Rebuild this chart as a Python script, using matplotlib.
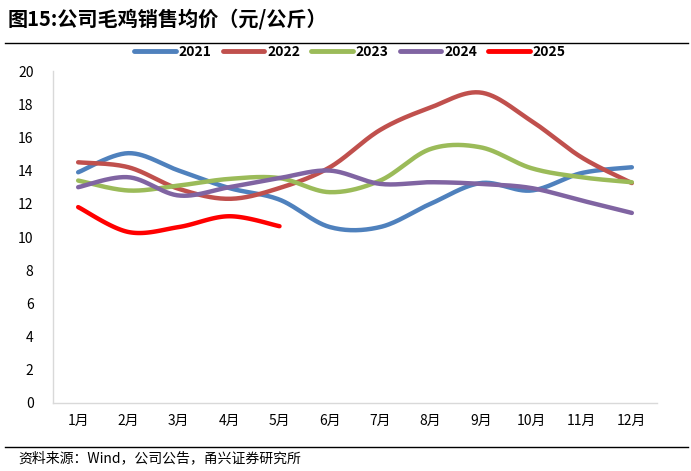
import numpy as np
import matplotlib
matplotlib.use("Agg")
import matplotlib.pyplot as plt
from matplotlib.lines import Line2D

plt.rcParams['font.family'] = ['Noto Sans CJK SC', 'DejaVu Sans']

months = ["1月", "2月", "3月", "4月", "5月", "6月", "7月", "8月", "9月", "10月", "11月", "12月"]
y2021 = [13.9, 15.05, 14.0, 12.95, 12.25, 10.6, 10.6, 12.0, 13.25, 12.8, 13.85, 14.2]
y2022 = [14.5, 14.2, 12.9, 12.3, 12.95, 14.2, 16.45, 17.8, 18.7, 17.0, 14.8, 13.25]
y2023 = [13.4, 12.8, 13.1, 13.5, 13.55, 12.7, 13.4, 15.3, 15.4, 14.15, 13.6, 13.3]
y2024 = [13.0, 13.6, 12.5, 13.0, 13.55, 14.0, 13.2, 13.3, 13.2, 12.95, 12.2, 11.45]
y2025 = [11.8, 10.3, 10.6, 11.25, 10.65]
series_names = ["2021", "2022", "2023", "2024", "2025"]
series_vals = [y2021, y2022, y2023, y2024, y2025]
colors = ["#4F81BD", "#C0504D", "#9BBB59", "#8064A2", "#FF0000"]


def smooth(x, y, n=30, t=1/6):
    x = np.asarray(x, float); y = np.asarray(y, float)
    if len(x) < 3:
        return x, y
    px = np.concatenate([[x[0]], x, [x[-1]]])
    py = np.concatenate([[y[0]], y, [y[-1]]])
    xs, ys = [], []
    s = np.linspace(0, 1, n)
    for i in range(1, len(px) - 2):
        p0 = np.array([px[i], py[i]]); p3 = np.array([px[i + 1], py[i + 1]])
        c1 = p0 + t * (np.array([px[i + 1], py[i + 1]]) - np.array([px[i - 1], py[i - 1]]))
        c2 = p3 - t * (np.array([px[i + 2], py[i + 2]]) - np.array([px[i], py[i]]))
        b = ((1 - s) ** 3)[:, None] * p0 + (3 * (1 - s) ** 2 * s)[:, None] * c1 \
            + (3 * (1 - s) * s ** 2)[:, None] * c2 + (s ** 3)[:, None] * p3
        xs.append(b[:, 0]); ys.append(b[:, 1])
    return np.concatenate(xs), np.concatenate(ys)


fig = plt.figure(figsize=(6.91, 4.71), dpi=100)
ax = fig.add_axes([53 / 691, 1 - 403 / 471, 604 / 691, 332 / 471])

for name, vals, c in zip(series_names, series_vals, colors):
    xs, ys = smooth(np.arange(len(vals)), vals)
    ax.plot(xs, ys, color=c, lw=3.2, solid_capstyle='round', label=name)

ax.set_xlim(-0.5, 11.5)
ax.set_ylim(0, 20)
ax.set_yticks(range(0, 21, 2))
ax.set_xticks(range(12))
ax.set_xticklabels(months, fontsize=10)
ax.tick_params(axis='y', labelsize=10, length=0, pad=14)
ax.tick_params(axis='x', length=0, pad=8)
for sp in ['top', 'right']:
    ax.spines[sp].set_visible(False)
for sp in ['left', 'bottom']:
    ax.spines[sp].set_color('#D9D9D9')
    ax.spines[sp].set_linewidth(1.0)

handles = [Line2D([0], [0], color=c, lw=3.5, solid_capstyle='round') for c in colors]
fig.legend(handles, series_names, loc='center', bbox_to_anchor=(350 / 691, 1 - 52 / 471),
           ncol=5, frameon=False, prop={'weight': 'bold', 'size': 10},
           handlelength=3.0, handletextpad=0.2, columnspacing=0.8)

fig.text(8 / 691, 1 - 19 / 471, "图15:公司毛鸡销售均价（元/公斤）", fontsize=14.5,
         fontweight='bold', va='center', ha='left')
fig.add_artist(Line2D([5 / 691, 688 / 691], [1 - 43 / 471] * 2, color='black', lw=1.0))
fig.add_artist(Line2D([5 / 691, 688 / 691], [1 - 447 / 471] * 2, color='black', lw=1.0))
fig.text(18 / 691, 1 - 458 / 471, "资料来源：Wind，公司公告，甬兴证券研究所", fontsize=10,
         style='italic', va='center', ha='left')

fig.savefig("out.png", dpi=100)
